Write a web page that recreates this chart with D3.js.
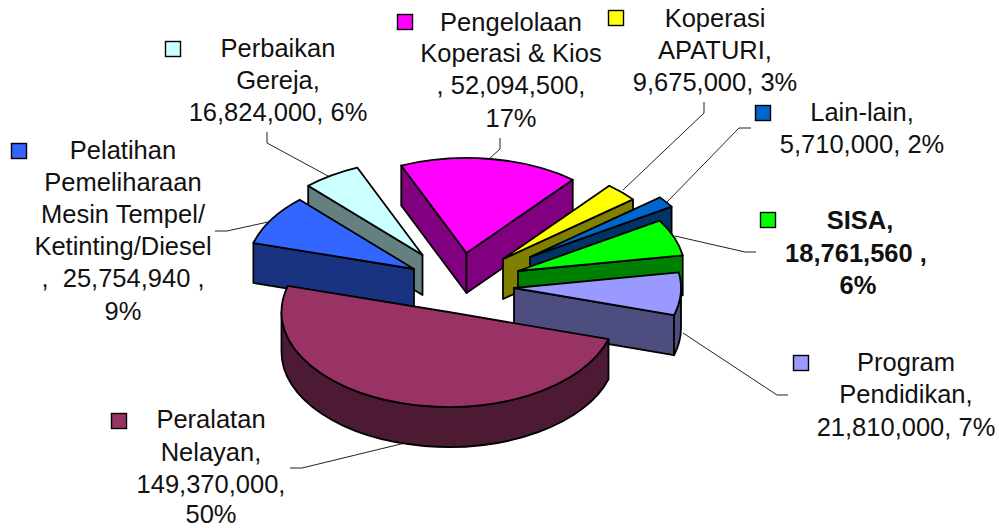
<!DOCTYPE html>
<html><head><meta charset="utf-8">
<script src="https://cdn.jsdelivr.net/npm/d3@7"></script>
<style>html,body{margin:0;padding:0;background:#fff}svg{display:block}
text{font-family:"Liberation Sans",Arial,sans-serif;font-size:25.5px;fill:#111;white-space:pre;text-anchor:middle}</style>
</head><body><svg id="c" width="999" height="528"></svg>
<script>
// --- data (in pie order, clockwise from the start angle)
const categories = ["Pengelolaan Koperasi & Kios","Koperasi APATURI","Lain-lain","SISA","Program Pendidikan","Peralatan Nelayan","Pelatihan Pemeliharaan Mesin Tempel/ Ketinting/Diesel","Perbaikan Gereja"];
const values = [52094500,9675000,5710000,18761560,21810000,149370000,25754940,16824000];
const labelLines = [
 ["Pengelolaan","Koperasi & Kios",", 52,094,500,","17%"],
 ["Koperasi","APATURI,","9,675,000, 3%"],
 ["Lain-lain,","5,710,000, 2%"],
 ["SISA,","18,761,560 ,","6%"],
 ["Program","Pendidikan,","21,810,000, 7%"],
 ["Peralatan","Nelayan,","149,370,000,","50%"],
 ["Pelatihan","Pemeliharaan","Mesin Tempel/","Ketinting/Diesel",",  25,754,940 ,","9%"],
 ["Perbaikan","Gereja,","16,824,000, 6%"]
];
// --- styling and layout
const topColors  = ["#FF00FF","#FFFF00","#0066CC","#00FF00","#9999FF","#993366","#3366FF","#CCFFFF"];
const wallColors = ["#800080","#808000","#003366","#008000","#4D4D80","#4D1A33","#1A3380","#668080"];
const apexes = [[466.5,253],[503,259],[530,257],[518,271],[514,288],[448.5,312],[414,269],[422.5,255]];
const drawOrder = [7,6,0,1,2,3,4,5];
const labelBase = [[511,[31,62,94,127]],[715,[27,59,91]],[862,[121,153]],[858,[229,262,294]],[906,[371,403,436]],[211,[428,461,493,522.5]],[123,[159,191,223,255,287,320]],[278,[57,89,121]]];
const lineCenters = [null,null,null,[860,856,858]];
const markers = [[405,22],[616,18],[763,113],[768,220],[801,363],[119,421],[19,151],[173,49]];
const leaders = [
 [[500,138],[500,149],[489,159]],
 [[704,102],[704,113],[623,190]],
 [[751,128],[739,128],[667,202]],
 [[756,252],[745,252],[675,236]],
 [[788,395],[777,395],[683,333]],
 [[290,468],[302,468],[405,443]],
 [[215,231],[227,231],[268,222]],
 [[267,132],[267,143],[328,176]]
];
const rx = 167, ry = 95, depth = 40, startDeg = -23;

const svg = d3.select("#c");
const pie = d3.pie().sort(null).startAngle(startDeg*Math.PI/180).endAngle((startDeg+360)*Math.PI/180);
const arcs = pie(values);
const arc = d3.arc().innerRadius(0).outerRadius(rx);
const px = (c,t)=>[c[0]+rx*Math.sin(t), c[1]-ry*Math.cos(t)];
const poly = pts=>"M"+pts.map(p=>p.join(",")).join("L")+"Z";

// leader lines first
svg.append("g").selectAll("path").data(leaders).join("path")
  .attr("d",d=>d3.line()(d)).attr("fill","none").attr("stroke","#222").attr("stroke-width",1);

const slices = svg.append("g").selectAll("g").data(drawOrder).join("g");
slices.each(function(i){
  const g = d3.select(this), a = arcs[i], c = apexes[i];
  const wall = d=>g.append("path").attr("d",d).attr("fill",wallColors[i]).attr("stroke","#000")
    .attr("stroke-width",1.8).attr("stroke-linejoin","round");
  const down = p=>[p[0],p[1]+depth];
  // radial walls facing the viewer
  if (Math.sin(a.startAngle)<0){ const p=px(c,a.startAngle); wall(poly([c,p,down(p),down(c)])); }
  if (Math.sin(a.endAngle)>0){ const p=px(c,a.endAngle); wall(poly([c,p,down(p),down(c)])); }
  // outer rim where it faces the viewer
  const t0=Math.max(a.startAngle,Math.PI/2), t1=Math.min(a.endAngle,Math.PI*1.5);
  if (t1>t0){
    const p0=px(c,t0), p1=px(c,t1), large=(t1-t0)>Math.PI?1:0;
    wall(`M${p0}A${rx},${ry} 0 ${large} 1 ${p1}L${down(p1)}A${rx},${ry} 0 ${large} 0 ${down(p0)}Z`);
  }
  // top face
  g.append("path").attr("transform",`translate(${c[0]},${c[1]}) scale(1,${ry/rx})`)
    .attr("d",arc(a)).attr("fill",topColors[i]).attr("stroke","#000").attr("stroke-width",1.8)
    .attr("stroke-linejoin","round").attr("vector-effect","non-scaling-stroke")
    .style("vector-effect","non-scaling-stroke");
});

// legend keys
svg.append("g").selectAll("rect").data(markers).join("rect")
  .attr("x",d=>d[0]-7.5).attr("y",d=>d[1]-7.5).attr("width",15).attr("height",15)
  .attr("fill",(d,i)=>topColors[i]).attr("stroke","#000").attr("stroke-width",1.4);

// labels
labelLines.forEach((lines,i)=>{
  const [cx,ys]=labelBase[i];
  lines.forEach((t,j)=>{
    svg.append("text").attr("x",lineCenters[i]?lineCenters[i][j]:cx).attr("y",ys[j])
      .style("font-weight",categories[i]==="SISA"?"bold":"normal").text(t);
  });
});
</script></body></html>
